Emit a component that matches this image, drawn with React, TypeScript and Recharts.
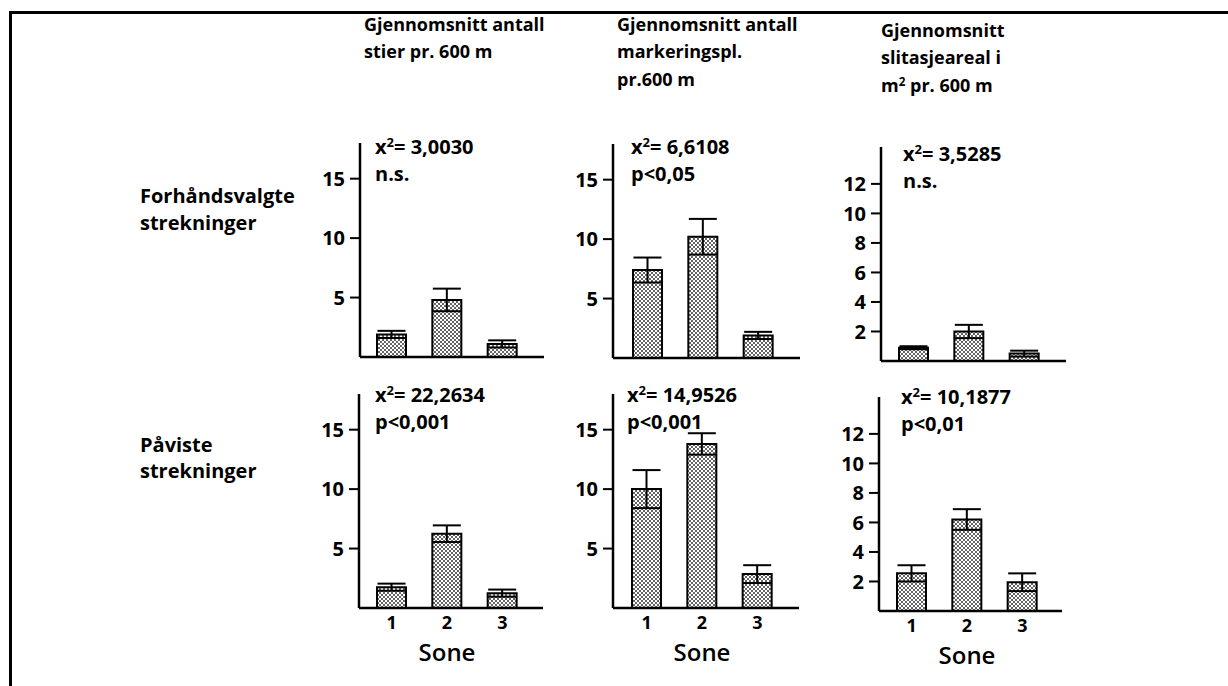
import React from 'react';
import { BarChart, Bar, XAxis, YAxis, ErrorBar } from 'recharts';

// Sone-kategorier
const soner = ['1', '2', '3'];

// Forhåndsvalgte strekninger
const stierForh = [1.9, 4.8, 1.1];
const stierForhErr = [0.3, 0.95, 0.3];
const markForh = [7.4, 10.2, 1.9];
const markForhErr = [1.05, 1.5, 0.3];
const slitForh = [0.9, 2.0, 0.5];
const slitForhErr = [0.1, 0.45, 0.2];

// Påviste strekninger
const stierPav = [1.75, 6.25, 1.25];
const stierPavErr = [0.3, 0.7, 0.3];
const markPav = [10.0, 13.8, 2.85];
const markPavErr = [1.6, 0.9, 0.75];
const slitPav = [2.55, 6.2, 1.95];
const slitPavErr = [0.55, 0.7, 0.6];

const ticksAntall = [5, 10, 15];
const ticksAreal = [2, 4, 6, 8, 10, 12];

const FONT = '"Open Sans", "DejaVu Sans", sans-serif';
const Y_W = 56;
const PLOT_H = 214;
const M_TOP = 10;

const toRows = (vals: number[], errs: number[]) =>
  soner.map((s, i) => ({ sone: s, v: vals[i], err: errs[i] }));

interface PanelProps {
  vals: number[];
  errs: number[];
  axisX: number;
  baseY: number;
  plotW: number;
  padL: number;
  yMax: number;
  ticks: number[];
  showX?: boolean;
}

const Panel: React.FC<PanelProps> = ({ vals, errs, axisX, baseY, plotW, padL, yMax, ticks, showX }) => {
  const xH = showX ? 28 : 4;
  const w = Y_W + plotW + 4;
  const h = M_TOP + PLOT_H + xH;
  return (
    <div style={{ position: 'absolute', left: axisX - Y_W, top: baseY - PLOT_H - M_TOP }}>
      <BarChart
        width={w}
        height={h}
        data={toRows(vals, errs)}
        margin={{ top: M_TOP, right: 4, left: 0, bottom: 0 }}
        barSize={29}
      >
        <XAxis
          dataKey="sone"
          height={xH}
          padding={{ left: padL, right: plotW - padL - 166 }}
          axisLine={{ stroke: '#000', strokeWidth: 2.5 }}
          tickLine={false}
          tickSize={0}
          tickMargin={8}
          tick={showX ? { fill: '#000', fontSize: 18, fontWeight: 700, fontFamily: FONT } : false}
        />
        <YAxis
          width={Y_W}
          domain={[0, yMax]}
          ticks={ticks}
          interval={0}
          allowDataOverflow
          axisLine={{ stroke: '#000', strokeWidth: 2.5 }}
          tickLine={{ stroke: '#000', strokeWidth: 2 }}
          tickSize={10}
          tickMargin={5}
          tick={{ fill: '#000', fontSize: 20, fontWeight: 700, fontFamily: FONT }}
        />
        <Bar dataKey="v" fill="url(#dots)" stroke="#000" strokeWidth={2} isAnimationActive={false}>
          <ErrorBar dataKey="err" width={14} stroke="#000" strokeWidth={2} isAnimationActive={false} />
        </Bar>
      </BarChart>
    </div>
  );
};

const Txt: React.FC<{ x: number; y: number; size?: number; weight?: number; children: React.ReactNode }> = ({
  x,
  y,
  size = 18,
  weight = 700,
  children
}) => (
  <div
    style={{
      position: 'absolute',
      left: x,
      top: y - size * 0.53,
      fontSize: size,
      fontWeight: weight,
      lineHeight: `${size}px`,
      whiteSpace: 'nowrap'
    }}
  >
    {children}
  </div>
);

// x-akse-tittel, med lav linjehøyde så boksen ikke når opp til tallene
const Sone: React.FC<{ x: number; base: number }> = ({ x, base }) => (
  <div
    style={{
      position: 'absolute',
      left: x - 60,
      width: 120,
      textAlign: 'center',
      top: base - 17,
      fontSize: 24,
      fontWeight: 600,
      lineHeight: '15px',
      whiteSpace: 'nowrap'
    }}
  >
    Sone
  </div>
);

const Sup = () => <sup style={{ fontSize: '0.65em', lineHeight: 0, verticalAlign: '0.55em' }}>2</sup>;

const Chi: React.FC<{ x: number; y: number; val: string; sig: string }> = ({ x, y, val, sig }) => (
  <>
    <Txt x={x} y={y} size={20}>
      x<Sup />= {val}
    </Txt>
    <Txt x={x} y={y + 27} size={20}>{sig}</Txt>
  </>
);

export default function App() {
  return (
    <div
      style={{
        position: 'absolute',
        left: 0,
        top: 0,
        width: 1228,
        height: 686,
        overflow: 'hidden',
        background: '#fff',
        fontFamily: FONT,
        color: '#000'
      }}
    >
      <svg width={0} height={0} style={{ position: 'absolute' }}>
        <defs>
          <pattern id="dots" width={4} height={4} patternUnits="userSpaceOnUse">
            <rect width={4} height={4} fill="#fff" />
            <circle cx={1} cy={1} r={0.95} fill="#222" />
            <circle cx={3} cy={3} r={0.95} fill="#222" />
          </pattern>
        </defs>
      </svg>

      {/* ramme */}
      <div style={{ position: 'absolute', left: 9, top: 11, right: -10, bottom: -10, borderTop: '3px solid #000', borderLeft: '3px solid #000' }} />

      {/* kolonnetitler */}
      <Txt x={364} y={25}>Gjennomsnitt antall</Txt>
      <Txt x={364} y={52}>stier pr. 600 m</Txt>
      <Txt x={617} y={25}>Gjennomsnitt antall</Txt>
      <Txt x={617} y={52}>markeringspl.</Txt>
      <Txt x={617} y={80}>pr.600 m</Txt>
      <Txt x={881} y={31}>Gjennomsnitt</Txt>
      <Txt x={881} y={58}>slitasjeareal i</Txt>
      <Txt x={881} y={86}>
        m<Sup /> pr. 600 m
      </Txt>

      {/* radetiketter */}
      <Txt x={140} y={197} size={20}>Forhåndsvalgte</Txt>
      <Txt x={140} y={224} size={20}>strekninger</Txt>
      <Txt x={140} y={446} size={20}>Påviste</Txt>
      <Txt x={140} y={472} size={20}>strekninger</Txt>

      <Panel vals={stierForh} errs={stierForhErr} axisX={360} baseY={357} plotW={184} padL={4} yMax={18} ticks={ticksAntall} />
      <Panel vals={markForh} errs={markForhErr} axisX={613} baseY={358} plotW={187} padL={7} yMax={18} ticks={ticksAntall} />
      <Panel vals={slitForh} errs={slitForhErr} axisX={881} baseY={361} plotW={185} padL={5} yMax={14.5} ticks={ticksAreal} />
      <Panel vals={stierPav} errs={stierPavErr} axisX={359} baseY={608} plotW={184} padL={5} yMax={18} ticks={ticksAntall} showX />
      <Panel vals={markPav} errs={markPavErr} axisX={613} baseY={608} plotW={186} padL={6} yMax={18} ticks={ticksAntall} showX />
      <Panel vals={slitPav} errs={slitPavErr} axisX={879} baseY={611} plotW={183} padL={5} yMax={14.5} ticks={ticksAreal} showX />

      <Chi x={375} y={148} val="3,0030" sig="n.s." />
      <Chi x={631} y={148} val="6,6108" sig="p<0,05" />
      <Chi x={903} y={155} val="3,5285" sig="n.s." />
      <Chi x={375} y={396} val="22,2634" sig="p<0,001" />
      <Chi x={627} y={396} val="14,9526" sig="p<0,001" />
      <Chi x={901} y={398} val="10,1877" sig="p<0,01" />

      <Sone x={447} base={661} />
      <Sone x={702} base={661} />
      <Sone x={967} base={664} />
    </div>
  );
}
